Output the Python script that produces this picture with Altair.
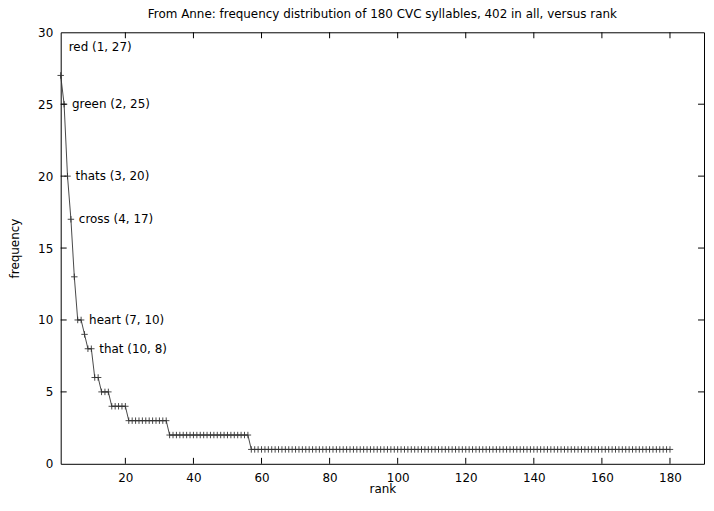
import altair as alt
import pandas as pd

# ---- data ----
ranks = list(range(1, 181))
freq = [
    27, 25, 20, 17, 13, 10, 10, 9, 8, 8,
    6, 6, 5, 5, 5, 4, 4, 4, 4, 4,
    3, 3, 3, 3, 3, 3, 3, 3, 3, 3,
    3, 3, 2, 2, 2, 2, 2, 2, 2, 2,
    2, 2, 2, 2, 2, 2, 2, 2, 2, 2,
    2, 2, 2, 2, 2, 2, 1, 1, 1, 1,
    1, 1, 1, 1, 1, 1, 1, 1, 1, 1,
    1, 1, 1, 1, 1, 1, 1, 1, 1, 1,
    1, 1, 1, 1, 1, 1, 1, 1, 1, 1,
    1, 1, 1, 1, 1, 1, 1, 1, 1, 1,
    1, 1, 1, 1, 1, 1, 1, 1, 1, 1,
    1, 1, 1, 1, 1, 1, 1, 1, 1, 1,
    1, 1, 1, 1, 1, 1, 1, 1, 1, 1,
    1, 1, 1, 1, 1, 1, 1, 1, 1, 1,
    1, 1, 1, 1, 1, 1, 1, 1, 1, 1,
    1, 1, 1, 1, 1, 1, 1, 1, 1, 1,
    1, 1, 1, 1, 1, 1, 1, 1, 1, 1,
    1, 1, 1, 1, 1, 1, 1, 1, 1, 1,
]

label_words = ["red", "green", "thats", "cross", "heart", "that"]
label_rank = [1, 2, 3, 4, 7, 10]
label_freq = [27, 25, 20, 17, 10, 8]
label_anchor_y = [29, 25, 20, 17, 10, 8]

x_ticks = [20, 40, 60, 80, 100, 120, 140, 160, 180]
y_ticks = [0, 5, 10, 15, 20, 25, 30]

title = "From Anne: frequency distribution of 180 CVC syllables, 402 in all, versus rank"

FONT = "DejaVu Sans"
W, H = 647, 434
TICK = 6
INK = "#333333"

df = pd.DataFrame({"rank": ranks, "freq": freq})
lab = pd.DataFrame({
    "rank": label_rank,
    "y": label_anchor_y,
    "text": [f"{w} ({r}, {f})" for w, r, f in zip(label_words, label_rank, label_freq)],
})
xt = pd.DataFrame({"v": x_ticks})
yt = pd.DataFrame({"v": y_ticks[1:-1]})

xscale = alt.Scale(domain=[1, 190], nice=False, zero=False)
yscale = alt.Scale(domain=[0, 30], nice=False)

xenc = alt.X("rank:Q", scale=xscale, title="rank",
             axis=alt.Axis(values=x_ticks, grid=False, domain=False, ticks=False,
                           labelPadding=9, titlePadding=0))
yenc = alt.Y("freq:Q", scale=yscale, title="frequency",
             axis=alt.Axis(values=y_ticks, grid=False, domain=False, ticks=False,
                           labelPadding=8, titlePadding=16))

line = alt.Chart(df).mark_line(color=INK, strokeWidth=0.9).encode(x=xenc, y=yenc)

plus = "M-1,0H1M0,-1V1"
points = alt.Chart(df).mark_point(shape=plus, size=42, filled=False, color=INK,
                                  strokeWidth=0.9, opacity=1).encode(
    x=alt.X("rank:Q", scale=xscale), y=alt.Y("freq:Q", scale=yscale))

labels = alt.Chart(lab).mark_text(align="left", baseline="middle", dx=8,
                                  font=FONT, fontSize=12, color="#000000").encode(
    x=alt.X("rank:Q", scale=xscale), y=alt.Y("y:Q", scale=yscale), text="text:N")

xt_bot = alt.Chart(xt).mark_rule(color="#000000", strokeWidth=1).encode(
    x=alt.X("v:Q", scale=xscale), y=alt.value(H), y2=alt.value(H - TICK))
xt_top = alt.Chart(xt).mark_rule(color="#000000", strokeWidth=1).encode(
    x=alt.X("v:Q", scale=xscale), y=alt.value(0), y2=alt.value(TICK))
yt_left = alt.Chart(yt).mark_rule(color="#000000", strokeWidth=1).encode(
    y=alt.Y("v:Q", scale=yscale), x=alt.value(0), x2=alt.value(TICK))
yt_right = alt.Chart(yt).mark_rule(color="#000000", strokeWidth=1).encode(
    y=alt.Y("v:Q", scale=yscale), x=alt.value(W - TICK), x2=alt.value(W))

chart = alt.layer(line, points, labels, xt_bot, xt_top, yt_left, yt_right).properties(
    width=W, height=H,
    title=alt.TitleParams(title, font=FONT, fontSize=12, fontWeight="normal",
                          color="#000000", anchor="middle", offset=5),
    autosize=alt.AutoSizeParams(type="none"),
    padding={"left": 53, "top": 23, "right": 2, "bottom": 40},
).configure_view(stroke="#000000", strokeWidth=1).configure_axis(
    labelFont=FONT, labelFontSize=12, labelColor="#000000",
    titleFont=FONT, titleFontSize=12, titleFontWeight="normal", titleColor="#000000",
)

chart.save("out.html", embed_options={"renderer": "svg", "actions": False})
